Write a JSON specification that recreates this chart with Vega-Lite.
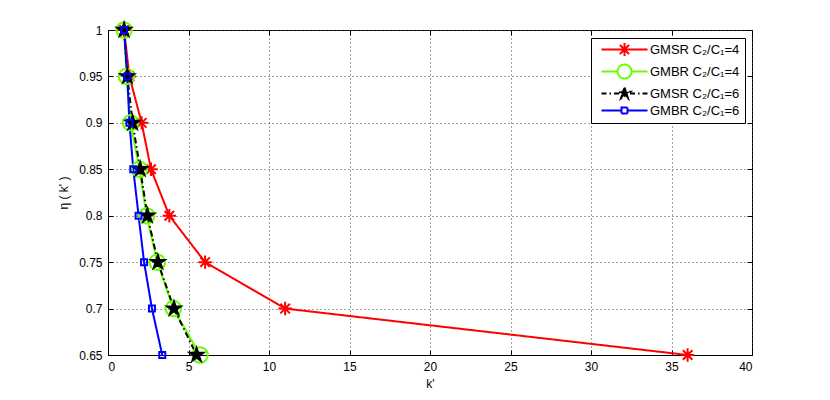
{
  "$schema": "https://vega.github.io/schema/vega-lite/v6.json",
  "width": 644,
  "height": 325,
  "autosize": {"type": "none"},
  "padding": {"left": 108, "top": 30, "right": 78, "bottom": 45},
  "background": "white",
  "config": {
    "font": "Liberation Sans",
    "view": {"stroke": "black", "strokeWidth": 1},
    "axis": {
      "domainColor": "black",
      "tickColor": "black",
      "labelColor": "black",
      "titleColor": "black",
      "labelFontSize": 12,
      "titleFontSize": 12,
      "titleFontWeight": "normal",
      "gridDash": [1, 3],
      "gridColor": "#444",
      "gridOpacity": 1,
      "tickSize": -5,
      "labelPadding": 11
    }
  },
  "data": {
    "values": [
      {"series": "GMSR C₂/C₁=4", "k": 1.0, "eta": 1.0},
      {"series": "GMSR C₂/C₁=4", "k": 1.33, "eta": 0.95},
      {"series": "GMSR C₂/C₁=4", "k": 2.09, "eta": 0.9},
      {"series": "GMSR C₂/C₁=4", "k": 2.67, "eta": 0.85},
      {"series": "GMSR C₂/C₁=4", "k": 3.81, "eta": 0.8},
      {"series": "GMSR C₂/C₁=4", "k": 6.03, "eta": 0.75},
      {"series": "GMSR C₂/C₁=4", "k": 11.0, "eta": 0.7},
      {"series": "GMSR C₂/C₁=4", "k": 36.0, "eta": 0.65},
      {"series": "GMBR C₂/C₁=4", "k": 1.0, "eta": 1.0},
      {"series": "GMBR C₂/C₁=4", "k": 1.15, "eta": 0.95},
      {"series": "GMBR C₂/C₁=4", "k": 1.4, "eta": 0.9},
      {"series": "GMBR C₂/C₁=4", "k": 1.95, "eta": 0.85},
      {"series": "GMBR C₂/C₁=4", "k": 2.4, "eta": 0.8},
      {"series": "GMBR C₂/C₁=4", "k": 3.06, "eta": 0.75},
      {"series": "GMBR C₂/C₁=4", "k": 4.06, "eta": 0.7},
      {"series": "GMBR C₂/C₁=4", "k": 5.72, "eta": 0.65},
      {"series": "GMSR C₂/C₁=6", "k": 1.0, "eta": 1.0},
      {"series": "GMSR C₂/C₁=6", "k": 1.2, "eta": 0.95},
      {"series": "GMSR C₂/C₁=6", "k": 1.53, "eta": 0.9},
      {"series": "GMSR C₂/C₁=6", "k": 2.0, "eta": 0.85},
      {"series": "GMSR C₂/C₁=6", "k": 2.45, "eta": 0.8},
      {"series": "GMSR C₂/C₁=6", "k": 3.1, "eta": 0.75},
      {"series": "GMSR C₂/C₁=6", "k": 4.1, "eta": 0.7},
      {"series": "GMSR C₂/C₁=6", "k": 5.5, "eta": 0.65},
      {"series": "GMBR C₂/C₁=6", "k": 1.0, "eta": 1.0},
      {"series": "GMBR C₂/C₁=6", "k": 1.2, "eta": 0.95},
      {"series": "GMBR C₂/C₁=6", "k": 1.33, "eta": 0.9},
      {"series": "GMBR C₂/C₁=6", "k": 1.57, "eta": 0.85},
      {"series": "GMBR C₂/C₁=6", "k": 1.9, "eta": 0.8},
      {"series": "GMBR C₂/C₁=6", "k": 2.24, "eta": 0.75},
      {"series": "GMBR C₂/C₁=6", "k": 2.73, "eta": 0.7},
      {"series": "GMBR C₂/C₁=6", "k": 3.37, "eta": 0.65}
    ]
  },
  "resolve": {
    "axis": {"x": "independent", "y": "independent"},
    "scale": {"stroke": "independent", "fill": "independent", "shape": "independent", "strokeDash": "independent", "size": "independent", "color": "independent"}
  },
  "layer": [
    {
      "mark": {"type": "line", "strokeWidth": 2},
      "encoding": {
        "x": {
          "field": "k", "type": "quantitative",
          "scale": {"domain": [0, 40], "nice": false, "zero": false},
          "axis": {"orient": "bottom", "values": [0, 5, 10, 15, 20, 25, 30, 35, 40], "grid": true, "title": "k'", "titlePadding": 6}
        },
        "y": {
          "field": "eta", "type": "quantitative",
          "scale": {"domain": [0.65, 1], "nice": false, "zero": false},
          "axis": {"orient": "left", "values": [0.65, 0.7, 0.75, 0.8, 0.85, 0.9, 0.95, 1], "format": ".2~f", "grid": true, "title": "η ( k' )", "titlePadding": 8}
        },
        "color": {
          "field": "series", "type": "nominal",
          "scale": {"range": ["#66ff00", "#0000ff", "#ff0000", "#000000"]},
          "legend": null
        },
        "strokeDash": {
          "field": "series", "type": "nominal",
          "scale": {"range": [[1, 0], [1, 0], [1, 0], [6, 3, 1.5, 3]]},
          "legend": null
        },
        "order": {"field": "eta", "sort": "descending"}
      }
    },
    {
      "mark": {"type": "point", "strokeWidth": 2, "opacity": 1},
      "encoding": {
        "x": {"field": "k", "type": "quantitative", "axis": null},
        "y": {"field": "eta", "type": "quantitative", "axis": null},
        "stroke": {
          "field": "series", "type": "nominal",
          "scale": {"range": ["#66ff00", "#0000ff", "#ff0000", "#000000"]},
          "legend": null
        },
        "fill": {
          "field": "series", "type": "nominal",
          "scale": {"range": ["transparent", "transparent", "transparent", "#000000"]},
          "legend": null
        },
        "shape": {
          "field": "series", "type": "nominal",
          "scale": {"range": ["circle", "square", "M-1,0L1,0M0,-1L0,1M-0.71,-0.71L0.71,0.71M-0.71,0.71L0.71,-0.71", "M0,-1L0.225,-0.309L0.951,-0.309L0.363,0.118L0.588,0.809L0,0.382L-0.588,0.809L-0.363,0.118L-0.951,-0.309L-0.225,-0.309Z"]},
          "legend": null
        },
        "size": {
          "field": "series", "type": "nominal",
          "scale": {"type": "ordinal", "range": [240, 36, 180, 200]},
          "legend": null
        }
      }
    },
    {
      "transform": [{"filter": "false"}],
      "mark": {"type": "point", "strokeWidth": 2, "opacity": 1},
      "encoding": {
        "x": {"field": "k", "type": "quantitative", "axis": {"orient": "top", "values": [0, 5, 10, 15, 20, 25, 30, 35, 40], "labels": false, "title": null, "grid": false, "domain": false}},
        "y": {"field": "eta", "type": "quantitative", "axis": {"orient": "right", "values": [0.65, 0.7, 0.75, 0.8, 0.85, 0.9, 0.95, 1], "labels": false, "title": null, "grid": false, "domain": false}},
        "stroke": {
          "field": "series", "type": "nominal",
          "scale": {"domain": ["GMSR C₂/C₁=4", "GMBR C₂/C₁=4", "GMSR C₂/C₁=6", "GMBR C₂/C₁=6"], "range": ["#ff0000", "#66ff00", "#000000", "#0000ff"]},
          "legend": {
            "title": null,
            "orient": "none",
            "legendX": 483,
            "legendY": 8,
            "padding": 5,
            "strokeColor": "black",
            "fillColor": "white",
            "cornerRadius": 0,
            "labelFontSize": 13,
            "labelColor": "black",
            "symbolSize": 100,
            "symbolOffset": 22,
            "labelOffset": 19,
            "rowPadding": 0,
            "symbolStrokeWidth": 2,
            "symbolOpacity": 1
          }
        },
        "fill": {
          "field": "series", "type": "nominal",
          "scale": {"domain": ["GMSR C₂/C₁=4", "GMBR C₂/C₁=4", "GMSR C₂/C₁=6", "GMBR C₂/C₁=6"], "range": ["transparent", "transparent", "#000000", "transparent"]},
          "legend": {}
        },
        "shape": {
          "field": "series", "type": "nominal",
          "scale": {"domain": ["GMSR C₂/C₁=4", "GMBR C₂/C₁=4", "GMSR C₂/C₁=6", "GMBR C₂/C₁=6"], "range": [
            "M-4.6,0L4.6,0M0,-1.3L0,1.3M-0.92,-0.92L0.92,0.92M-0.92,0.92L0.92,-0.92",
            "M-4.6,0L-1.4,0M1.4,0L4.6,0M-1.4,0A1.4,1.4,0,1,0,1.4,0A1.4,1.4,0,1,0,-1.4,0",
            "M-4.6,0L-1.1,0M1.1,0L4.6,0M0,-1.2L0.269,-0.371L1.141,-0.371L0.436,0.142L0.706,0.971L0,0.458L-0.706,0.971L-0.436,0.142L-1.141,-0.371L-0.269,-0.371Z",
            "M-4.6,0L-0.6,0M0.6,0L4.6,0M-0.6,-0.6L0.6,-0.6L0.6,0.6L-0.6,0.6Z"
          ]},
          "legend": {}
        },
        "strokeDash": {
          "field": "series", "type": "nominal",
          "scale": {"domain": ["GMSR C₂/C₁=4", "GMBR C₂/C₁=4", "GMSR C₂/C₁=6", "GMBR C₂/C₁=6"], "range": [[1, 0], [1, 0], [5, 3, 1.5, 3], [1, 0]]},
          "legend": {}
        }
      }
    }
  ]
}
